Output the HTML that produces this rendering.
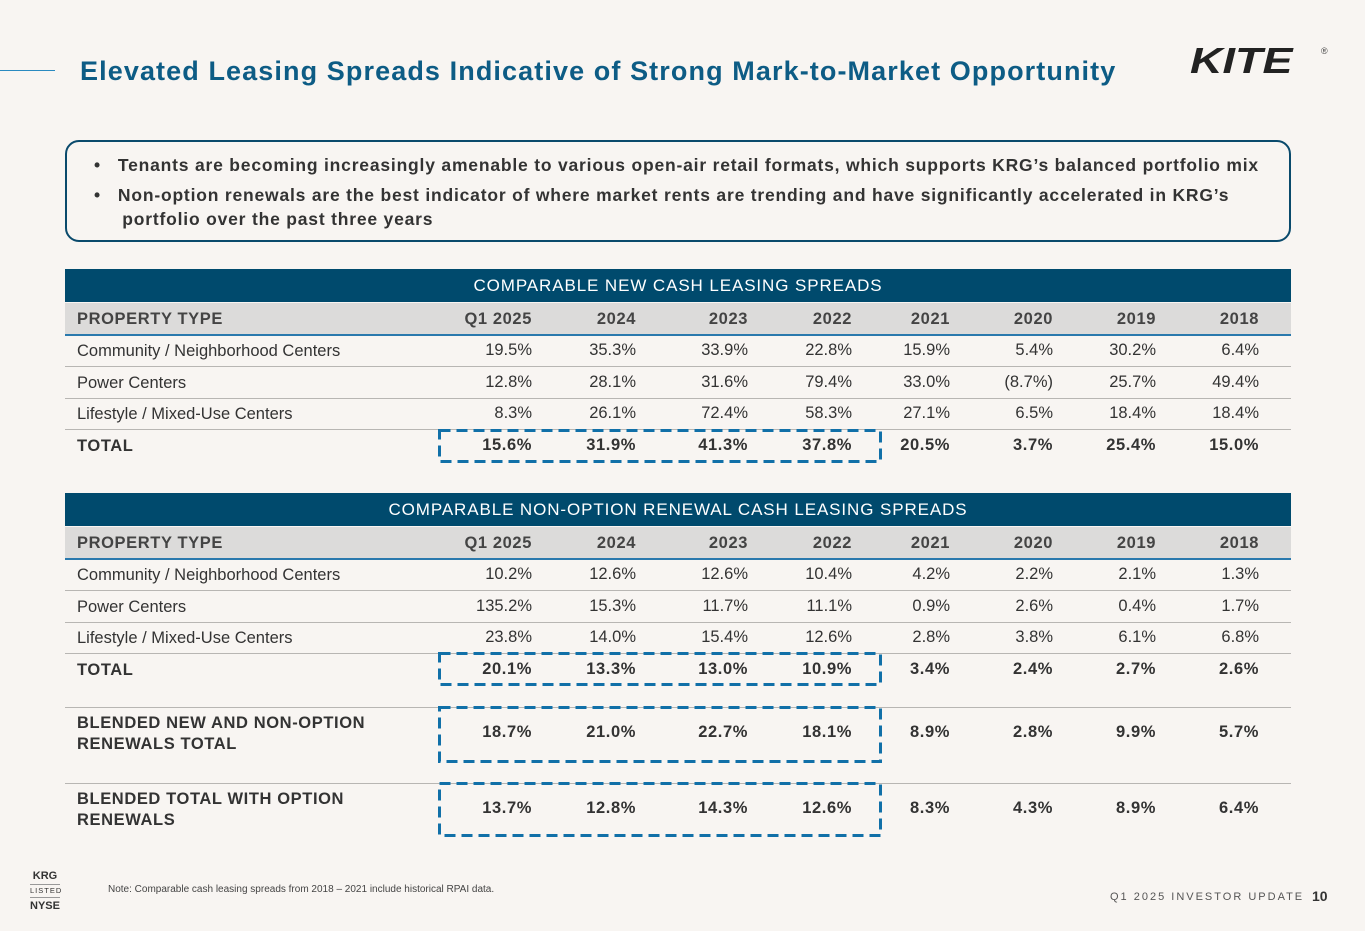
<!DOCTYPE html>
<html><head><meta charset="utf-8"><style>
body{margin:0;width:1365px;height:931px;background:#f8f5f2;font-family:"Liberation Sans",sans-serif;position:relative;overflow:hidden;color:#333}
.a{position:absolute}
.title{left:80px;top:56px;font-size:27px;color:#0d5c85;font-weight:bold;letter-spacing:1.1px;white-space:nowrap}
.box{left:65px;top:140px;width:1226px;height:102px;border:2px solid #0a4a6c;border-radius:14px;box-sizing:border-box}
.bul{left:94px;font-size:17.5px;font-weight:bold;color:#333;letter-spacing:0.8px;white-space:nowrap}
.hdr{left:65px;width:1226px;height:33px;background:#004a6d;color:#fff;font-size:17px;text-align:center;line-height:34px;letter-spacing:0.9px}
.gr{left:65px;width:1226px;height:31px;background:#dcdbda;border-bottom:2px solid #2a79ad}
.line{left:65px;width:1226px;height:1px;background:#b8b6b3}
.c{position:absolute;font-size:16.5px;white-space:nowrap}
.r{text-align:right;width:120px}
.b{font-weight:bold;letter-spacing:0.6px}
.dash{position:absolute;left:438px;width:444px}
</style></head><body>
<div class="a" style="left:0;top:70px;width:55px;height:1px;background:#2a8ac0"></div>
<div class="a title">Elevated Leasing Spreads Indicative of Strong Mark-to-Market Opportunity</div>
<div class="a" style="left:1190px;top:40px;font-size:36px;font-weight:900;font-style:italic;color:#222;letter-spacing:0px;transform:scaleX(1.25);transform-origin:left">KITE</div>
<div class="a" style="left:1321px;top:46px;font-size:9px;color:#444">®</div>
<div class="a box"></div>
<div class="a bul" style="top:155px">•&nbsp;&nbsp; Tenants are becoming increasingly amenable to various open-air retail formats, which supports KRG’s balanced portfolio mix</div>
<div class="a bul" style="top:183px;line-height:24px">•&nbsp;&nbsp; Non-option renewals are the best indicator of where market rents are trending and have significantly accelerated in KRG’s<br>&nbsp;&nbsp;&nbsp;&nbsp; portfolio over the past three years</div>
<div id="t"></div>
<div class="a" style="left:30px;top:870px;width:30px;text-align:center;font-size:11px;font-weight:bold;color:#333;line-height:12px">KRG<div style="font-size:7.5px;font-weight:normal;border-top:1px solid #999;border-bottom:1px solid #999;margin:2px 0;letter-spacing:1px">LISTED</div>NYSE</div>
<div class="a" style="left:108px;top:884px;font-size:10px;color:#444">Note: Comparable cash leasing spreads from 2018 – 2021 include historical RPAI data.</div>
<div class="a" style="left:1110px;top:891px;font-size:11px;letter-spacing:2px;color:#555">Q1 2025 INVESTOR UPDATE</div>
<div class="a" style="left:1312px;top:888px;font-size:14px;font-weight:bold;color:#333">10</div>
<script>
const cols=["Q1 2025","2024","2023","2022","2021","2020","2019","2018"];
const colRight=[532,636,748,852,950,1053,1156,1259];
const newRows=[
 ["Community / Neighborhood Centers",["19.5%","35.3%","33.9%","22.8%","15.9%","5.4%","30.2%","6.4%"]],
 ["Power Centers",["12.8%","28.1%","31.6%","79.4%","33.0%","(8.7%)","25.7%","49.4%"]],
 ["Lifestyle / Mixed-Use Centers",["8.3%","26.1%","72.4%","58.3%","27.1%","6.5%","18.4%","18.4%"]]];
const newTotal=["15.6%","31.9%","41.3%","37.8%","20.5%","3.7%","25.4%","15.0%"];
const renRows=[
 ["Community / Neighborhood Centers",["10.2%","12.6%","12.6%","10.4%","4.2%","2.2%","2.1%","1.3%"]],
 ["Power Centers",["135.2%","15.3%","11.7%","11.1%","0.9%","2.6%","0.4%","1.7%"]],
 ["Lifestyle / Mixed-Use Centers",["23.8%","14.0%","15.4%","12.6%","2.8%","3.8%","6.1%","6.8%"]]];
const renTotal=["20.1%","13.3%","13.0%","10.9%","3.4%","2.4%","2.7%","2.6%"];
const blendNew=["18.7%","21.0%","22.7%","18.1%","8.9%","2.8%","9.9%","5.7%"];
const blendOpt=["13.7%","12.8%","14.3%","12.6%","8.3%","4.3%","8.9%","6.4%"];
const root=document.getElementById('t');
function add(cls,style,text,name){const d=document.createElement('div');d.className=cls;d.style.cssText=style;if(text!=null)d.innerHTML=text;


root.appendChild(d);return d;}
function row(y,label,vals,bold,name,lh){
 add('c'+(bold?' b':''),`left:77px;top:${y}px;line-height:${lh||20}px`,label,name+'-label');
 vals.forEach((v,i)=>add('c r'+(bold?' b':''),`left:${colRight[i]-120}px;top:${lh?y+10:y}px`,v,name+'-'+cols[i].replace(' ','-').toLowerCase()));
}
function table(top,title,rows,total,key){
 add('a hdr',`top:${top}px`,title,key+'-header');
 add('a gr',`top:${top+34}px`,null,key+'-column-header-row');
 add('c b',`left:77px;top:${top+41}px;color:#444`,'PROPERTY TYPE',key+'-col-property');
 cols.forEach((c,i)=>add('c r b',`left:${colRight[i]-120}px;top:${top+41}px;color:#444`,c,key+'-col-'+c.replace(' ','-').toLowerCase()));
 rows.forEach((r,k)=>{const y=top+66+k*31.7;
  row(y+6,r[0],r[1],false,key+'-row-'+(k+1));
  add('a line',`top:${y+31}px`,null,key+'-row-divider');});
 row(top+66+3*31.7+6,'TOTAL',total,true,key+'-total');
}
table(269,'COMPARABLE NEW CASH LEASING SPREADS',newRows,newTotal,'new-spreads');
table(493,'COMPARABLE NON-OPTION RENEWAL CASH LEASING SPREADS',renRows,renTotal,'renewal-spreads');
add('a line','top:707px',null,'blend-divider-1');
add('a line','top:783px',null,'blend-divider-2');
row(713,'BLENDED NEW AND NON-OPTION<br>RENEWALS TOTAL',blendNew,true,'blended-new-renewals',21);
row(789,'BLENDED TOTAL WITH OPTION<br>RENEWALS',blendOpt,true,'blended-with-options',21);
[[429,34],[652,34],[706,57],[782,55]].forEach((d,i)=>{const el=add('dash',`top:${d[0]}px;height:${d[1]}px`,null,'highlight-box-'+(i+1));
 el.innerHTML=`<svg width="444" height="${d[1]}"><rect x="1.5" y="1.5" width="441" height="${d[1]-3}" fill="none" stroke="#1170a8" stroke-width="3" stroke-dasharray="11 6"/></svg>`;});
</script>
</body></html>
